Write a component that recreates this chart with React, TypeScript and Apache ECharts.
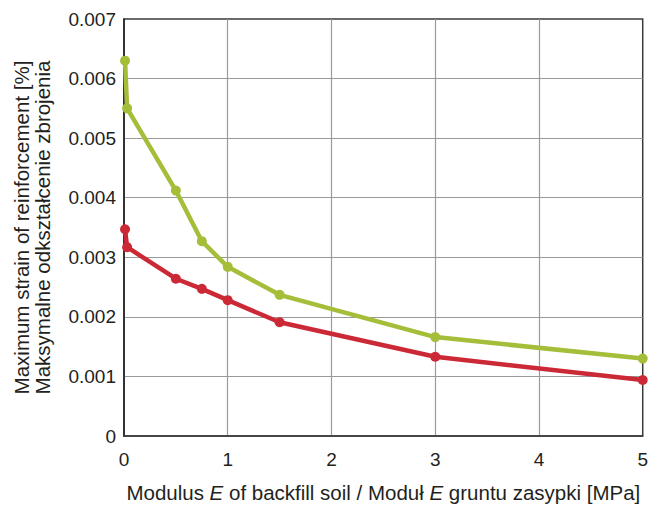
import React, { useEffect, useRef } from "react";
import * as echarts from "echarts";

const greenX = [0.01, 0.03, 0.5, 0.75, 1, 1.5, 3, 5];
const greenY = [0.0063, 0.0055, 0.00412, 0.00327, 0.00284, 0.00237, 0.00166, 0.0013];
const redX = [0.01, 0.03, 0.5, 0.75, 1, 1.5, 3, 5];
const redY = [0.00347, 0.00317, 0.00264, 0.00247, 0.00228, 0.00191, 0.00133, 0.00094];

const xName = "Modulus {i|E} of backfill soil / Moduł {i|E} gruntu zasypki [MPa]";
const yName = "Maximum strain of reinforcement [%]\nMaksymalne odkształcenie zbrojenia";

export default function App() {
  const ref = useRef<HTMLDivElement>(null);
  useEffect(() => {
    if (!ref.current) return;
    const chart = echarts.init(ref.current, null, { renderer: "svg" });
    const font = "Liberation Sans, Arial, sans-serif";
    const txt = "#231f20";
    chart.setOption({
      animation: false,
      textStyle: { fontFamily: font },
      grid: {
        left: 124,
        right: 7,
        top: 19,
        bottom: 72,
        containLabel: false,
        show: true,
        borderColor: "#3a3a3a",
        borderWidth: 1.5,
        backgroundColor: "transparent",
      },
      xAxis: {
        type: "value",
        min: 0,
        max: 5,
        interval: 1,
        name: xName,
        nameLocation: "middle",
        nameGap: 46,
        nameTextStyle: {
          fontFamily: font,
          fontSize: 20.5,
          color: txt,
          rich: { i: { fontStyle: "italic", fontSize: 20.5, color: txt, fontFamily: font } },
        },
        axisLine: { show: true, lineStyle: { color: "#3a3a3a", width: 1.5 } },
        axisTick: { show: false },
        axisLabel: { fontSize: 19, color: txt, margin: 14, fontFamily: font },
        splitLine: {
          show: true,
          showMinLine: false,
          showMaxLine: false,
          lineStyle: { color: "#9a9a9a", width: 1.2 },
        },
      },
      yAxis: {
        type: "value",
        min: 0,
        max: 0.007,
        interval: 0.001,
        name: yName,
        nameLocation: "middle",
        nameGap: 71,
        nameTextStyle: { fontFamily: font, fontSize: 20.5, color: txt, lineHeight: 21 },
        axisLine: { show: true, lineStyle: { color: "#222", width: 1.5 } },
        axisTick: { show: false },
        axisLabel: {
          fontSize: 19,
          color: txt,
          margin: 8,
          fontFamily: font,
          formatter: (v: number) => (v === 0 ? "0" : v.toFixed(3)),
        },
        splitLine: {
          show: true,
          showMinLine: false,
          showMaxLine: false,
          lineStyle: { color: "#9a9a9a", width: 1.2 },
        },
      },
      series: [
        {
          type: "line",
          data: greenX.map((x, i) => [x, greenY[i]]),
          symbol: "circle",
          symbolSize: 10,
          lineStyle: { color: "#a5be3a", width: 4.5 },
          itemStyle: { color: "#a5be3a" },
          z: 3,
        },
        {
          type: "line",
          data: redX.map((x, i) => [x, redY[i]]),
          symbol: "circle",
          symbolSize: 10,
          lineStyle: { color: "#cc2936", width: 4.5 },
          itemStyle: { color: "#cc2936" },
          z: 4,
        },
      ],
    });
    return () => chart.dispose();
  }, []);
  return (
    <div
      ref={ref}
      style={{ position: "fixed", left: 0, top: 0, width: 651, height: 508, background: "#fff" }}
    />
  );
}
